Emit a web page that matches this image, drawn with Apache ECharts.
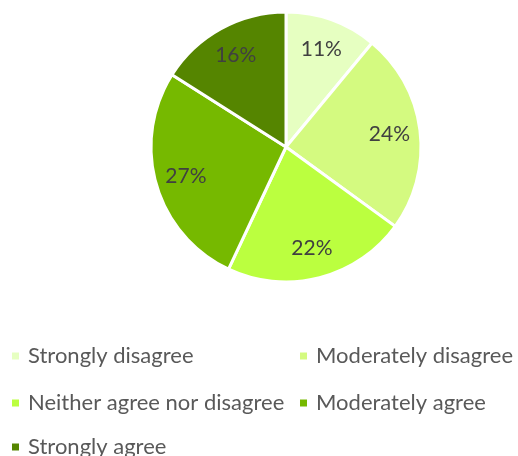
<!DOCTYPE html>
<html>
<head>
<meta charset="utf-8">
<style>
  html, body { margin: 0; padding: 0; background: #ffffff; }
  #chart { width: 518px; height: 456px; }
</style>
<script src="https://cdn.jsdelivr.net/npm/echarts@6/dist/echarts.min.js"></script>
</head>
<body>
<div id="chart"></div>
<script>
// Survey responses (percent of respondents)
const categories = [
  'Strongly disagree',
  'Moderately disagree',
  'Neither agree nor disagree',
  'Moderately agree',
  'Strongly agree'
];
const shares = [11, 24, 22, 27, 16];
const sliceColors = ['#E6FFC1', '#D4FA80', '#BBFF3F', '#76B900', '#558500'];

// Legend layout: two columns, three rows
const legendCols = [10, 298];
const legendRows = [345, 392, 436];

const FONT = 'Lato, "Liberation Sans", sans-serif';
const CENTER = [286, 147];
const R = 135;

const pieData = categories.map((name, i) => ({
  name,
  value: shares[i],
  itemStyle: { color: sliceColors[i] }
}));

const legends = categories.map((name, i) => ({
  data: [name],
  left: legendCols[i % 2],
  top: legendRows[Math.floor(i / 2)],
  icon: 'rect',
  itemWidth: 9,
  itemHeight: 9,
  selectedMode: false,
  padding: 0,
  textStyle: {
    fontFamily: FONT,
    fontSize: 22,
    color: '#595959',
    padding: [0, 0, 0, 3]
  }
}));

const chart = echarts.init(document.getElementById('chart'));
chart.setOption({
  animation: false,
  legend: legends,
  series: [
    {
      // the slices
      type: 'pie',
      center: CENTER,
      radius: [0, R],
      startAngle: 90,
      clockwise: true,
      data: pieData,
      itemStyle: { borderColor: '#ffffff', borderWidth: 3 },
      label: { show: false },
      labelLine: { show: false },
      emphasis: { disabled: true }
    },
    {
      // percentage labels placed at three quarters of the radius
      type: 'pie',
      center: CENTER,
      radius: [R * 0.5, R],
      startAngle: 90,
      clockwise: true,
      silent: true,
      data: pieData.map(d => ({ name: d.name, value: d.value })),
      itemStyle: { color: 'rgba(0,0,0,0)' },
      label: {
        show: true,
        position: 'inside',
        formatter: p => p.value + '%',
        fontFamily: FONT,
        fontSize: 21,
        color: '#404040'
      },
      labelLine: { show: false },
      emphasis: { disabled: true }
    }
  ]
});
</script>
</body>
</html>
